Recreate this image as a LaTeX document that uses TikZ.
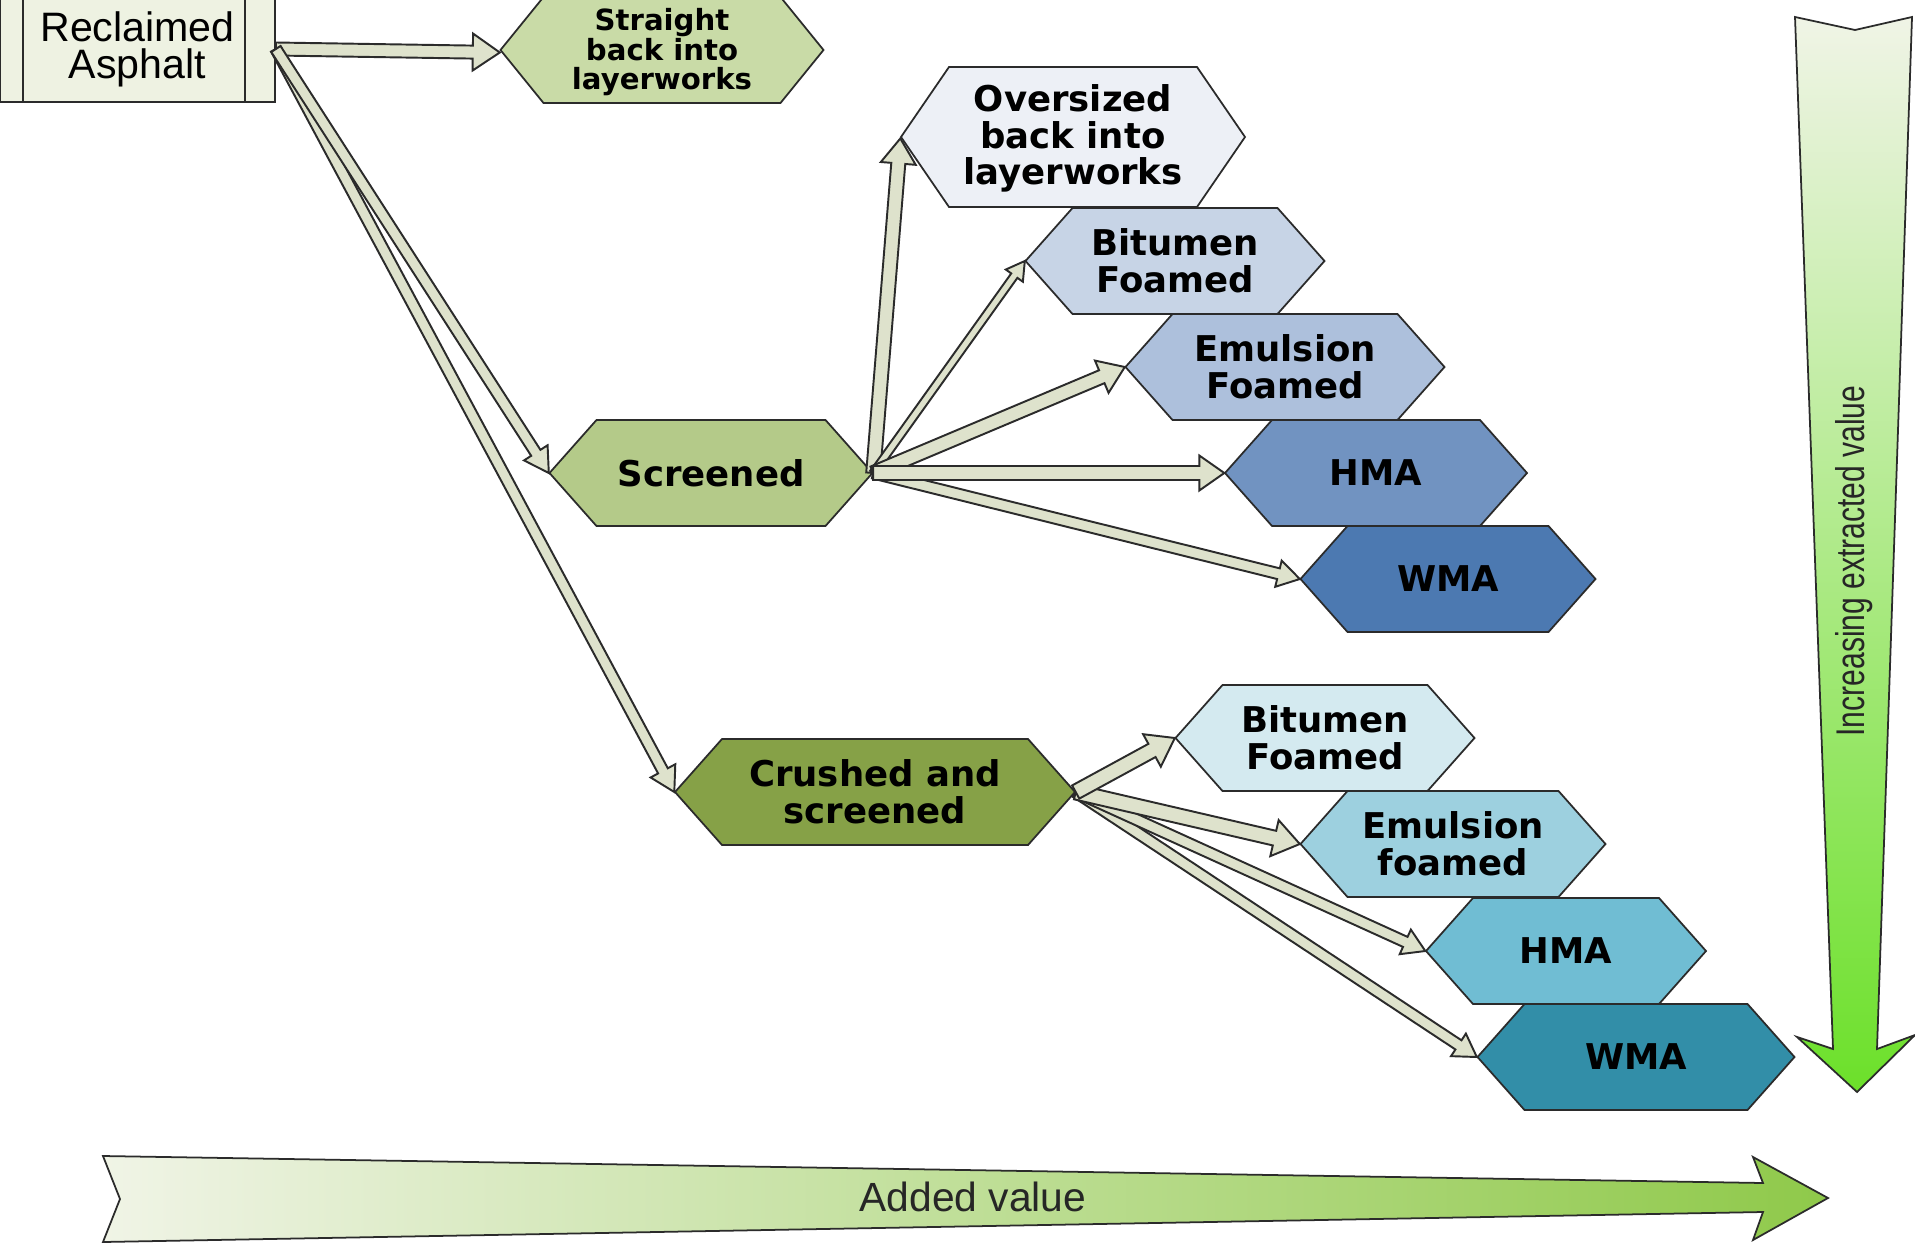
\documentclass[tikz,border=0pt]{standalone}
\usepackage{fontspec}
\usetikzlibrary{calc}
\newfontfamily\hexfont{DejaVu Sans}
\newfontfamily\arialfont{Liberation Sans}
\newfontfamily\narrowfont[FakeStretch=0.75]{Liberation Sans}

\definecolor{cRa}{HTML}{EEF2E2}
\definecolor{cStr}{HTML}{C9DBA7}
\definecolor{cOv}{HTML}{EDF0F6}
\definecolor{cBfA}{HTML}{C7D4E6}
\definecolor{cEfA}{HTML}{ADC0DC}
\definecolor{cHmaA}{HTML}{7193C1}
\definecolor{cWmaA}{HTML}{4C79B1}
\definecolor{cScr}{HTML}{B4CA89}
\definecolor{cCr}{HTML}{86A147}
\definecolor{cBfB}{HTML}{D4EAF0}
\definecolor{cEfB}{HTML}{9DD0DF}
\definecolor{cHmaB}{HTML}{70BDD3}
\definecolor{cWmaB}{HTML}{328EA8}
\definecolor{cConn}{HTML}{DEE2CC}
\definecolor{cLine}{HTML}{2B2B2B}
\definecolor{cGradA}{HTML}{F0F4E6}
\definecolor{cGradV}{HTML}{6CE02A}
\definecolor{cGradH}{HTML}{8FC94A}

\tikzset{
  hexline/.style={draw=cLine, line width=0.5pt, line join=miter},
  hextext/.style={inner sep=0pt, align=center, text=black,
    font=\hexfont\bfseries\fontsize{10.1pt}{10.4pt}\selectfont},
  conn/.style={draw=cLine, fill=cConn, line width=0.55pt, line join=miter},
  rabox/.style={draw=cLine, fill=cRa, line width=0.5pt, inner sep=0pt, align=center,
    minimum width=27.5mm, minimum height=10.6mm,
    font=\arialfont\fontsize{11.7pt}{10.6pt}\selectfont},
  valarrow/.style={draw=cLine, line width=0.5pt, line join=miter},
  vallabel/.style={inner sep=0pt, text=black!85}
}

% hexagon: name, cx, cy, width, height, tip offset, fill, node options, text
\newcommand\hexbox[9]{%
  \path[hexline, fill=#7] ({#2-#4/2},#3) -- ({#2-#4/2+#6},{#3-#5/2}) -- ({#2+#4/2-#6},{#3-#5/2})
     -- ({#2+#4/2},#3) -- ({#2+#4/2-#6},{#3+#5/2}) -- ({#2-#4/2+#6},{#3+#5/2}) -- cycle;
  \node[hextext, minimum width={#4*0.1mm}, minimum height={#5*0.1mm}, #8] (#1) at (#2,#3) {#9};
}

% block arrow: from, to, shaft half width, head half width, head length
\newcommand\blockarrow[5]{%
  \coordinate (ba-a) at (#1);
  \coordinate (ba-b) at (#2);
  \coordinate (ba-h) at ($(ba-b)!#5!(ba-a)$);
  \draw[conn] ($(ba-a)!#3!90:(ba-b)$) -- ($(ba-h)!#3!90:(ba-b)$) -- ($(ba-h)!#4!90:(ba-b)$)
    -- (ba-b) -- ($(ba-h)!#4!-90:(ba-b)$) -- ($(ba-h)!#3!-90:(ba-b)$) -- ($(ba-a)!#3!-90:(ba-b)$) -- cycle;
}

\begin{document}
\begin{tikzpicture}[x=0.1mm,y=-0.1mm]
\useasboundingbox (0,0) rectangle (1915,1243);
\fill[white] (0,0) rectangle (1915,1243);

% value arrows
\shadedraw[valarrow, top color=cGradA, bottom color=cGradV]
  (1795,17) -- (1855,30) -- (1912,17) -- (1877,1049) -- (1915,1035) -- (1857,1092)
  -- (1797,1037) -- (1833,1049) -- cycle;
\node[vallabel, rotate=90, font=\narrowfont\fontsize{11.4pt}{12pt}\selectfont] (incv) at (1854,561) {Increasing extracted value};

\shadedraw[valarrow, left color=cGradA, right color=cGradH]
  (103,1156) -- (1763,1183) -- (1753,1157) -- (1828,1198) -- (1753,1240) -- (1763,1212)
  -- (103,1242) -- (120,1199) -- cycle;
\node[vallabel, font=\arialfont\fontsize{11.6pt}{12pt}\selectfont] (addv) at (973,1197) {Added value};

% source
\node[rabox] (ra) at (137.5,49) {Reclaimed\\Asphalt};
\draw[cLine, line width=0.5pt] ([xshift=2.4mm]ra.north west) -- ([xshift=2.4mm]ra.south west);
\draw[cLine, line width=0.5pt] ([xshift=-3.1mm]ra.north east) -- ([xshift=-3.1mm]ra.south east);

% hexagons
\hexbox{str}{662}{50}{323}{106}{43}{cStr}{font=\hexfont\bfseries\fontsize{8.3pt}{8.4pt}\selectfont, yshift=-0.25mm}{Straight\\back into\\layerworks}
\hexbox{ov}{1073}{137}{344}{140}{48}{cOv}{yshift=-0.15mm}{Oversized\\back into\\layerworks}
\hexbox{bfa}{1175}{261}{299}{106}{47}{cBfA}{}{Bitumen\\Foamed}
\hexbox{efa}{1285}{367}{319}{106}{47}{cEfA}{}{Emulsion\\Foamed}
\hexbox{hmaa}{1376}{473}{302}{106}{47}{cHmaA}{}{HMA}
\hexbox{wmaa}{1448}{579}{295}{106}{47}{cWmaA}{}{WMA}
\hexbox{scr}{711}{473}{323}{106}{47}{cScr}{}{Screened}
\hexbox{cr}{875}{792}{400}{106}{47}{cCr}{}{Crushed and\\screened}
\hexbox{bfb}{1325}{738}{299}{106}{47}{cBfB}{}{Bitumen\\Foamed}
\hexbox{efb}{1453}{844}{305}{106}{47}{cEfB}{}{Emulsion\\foamed}
\hexbox{hmab}{1566}{951}{280}{106}{47}{cHmaB}{}{HMA}
\hexbox{wmab}{1636}{1057}{317}{106}{47}{cWmaB}{}{WMA}

% connectors
\blockarrow{ra.east}{str.west}{0.65mm}{1.85mm}{2.7mm}
\blockarrow{ra.east}{cr.west}{0.55mm}{1.4mm}{2.4mm}
\blockarrow{ra.east}{scr.west}{0.55mm}{1.4mm}{2.4mm}
\blockarrow{scr.east}{ov.west}{0.7mm}{1.75mm}{2.5mm}
\blockarrow{scr.east}{bfa.west}{0.38mm}{1.05mm}{1.8mm}
\blockarrow{scr.east}{efa.west}{0.7mm}{1.75mm}{2.5mm}
\blockarrow{scr.east}{wmaa.west}{0.55mm}{1.35mm}{2.2mm}
\blockarrow{scr.east}{hmaa.west}{0.7mm}{1.75mm}{2.5mm}
\blockarrow{cr.east}{wmab.west}{0.55mm}{1.35mm}{2.2mm}
\blockarrow{cr.east}{hmab.west}{0.55mm}{1.35mm}{2.2mm}
\blockarrow{cr.east}{efb.west}{0.75mm}{1.85mm}{2.6mm}
\blockarrow{cr.east}{bfb.west}{0.75mm}{1.85mm}{2.6mm}
\end{tikzpicture}
\end{document}
